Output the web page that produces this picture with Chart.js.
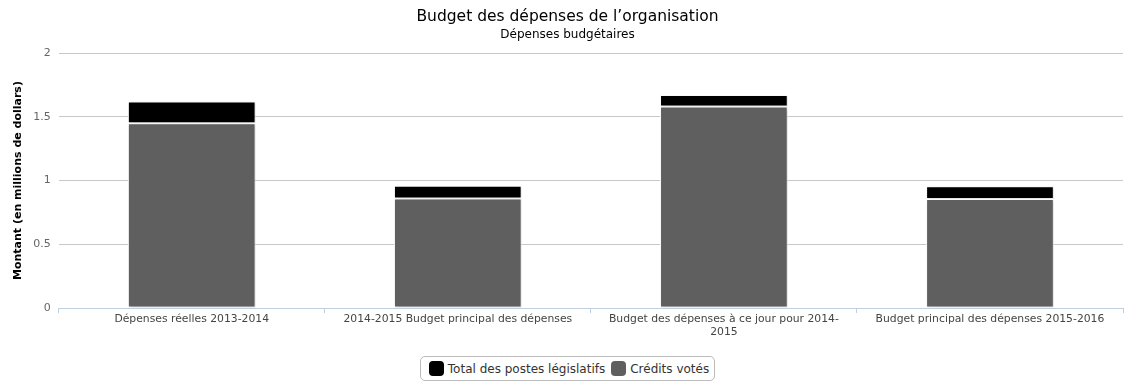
<!DOCTYPE html>
<html lang="fr">
<head>
<meta charset="utf-8">
<title>Budget des dépenses de l'organisation</title>
<script src="https://cdn.jsdelivr.net/npm/chart.js@4/dist/chart.umd.min.js"></script>
<style>
  html, body { margin: 0; padding: 0; background: #fff; }
  #wrap { position: relative; width: 1135px; height: 339px; }
  #legende {
    position: absolute; top: 356px; left: 0; width: 1135px;
    display: flex; justify-content: center;
  }
  #legende .cadre {
    display: flex; align-items: center; gap: 6px;
    border: 1px solid #bbb; border-radius: 5px;
    padding: 4px 5px 4px 8px;
    font: 12px 'DejaVu Sans', 'Lucida Grande', Verdana, sans-serif; color: #333;
  }
  #legende .item { display: flex; align-items: center; gap: 4px; }
  #legende .carre { width: 15px; height: 15px; border-radius: 4px; display: inline-block; }
</style>
</head>
<body>
<div id="wrap"><canvas id="budgetChart"></canvas></div>
<div id="legende"><div class="cadre"></div></div>
<script>
// --- Données ---
const categories = [
    'Dépenses réelles 2013-2014',
    '2014-2015 Budget principal des dépenses',
    ['Budget des dépenses à ce jour pour 2014-', '2015'],
    'Budget principal des dépenses 2015-2016'
];
const creditsVotes = [1.45, 0.86, 1.58, 0.856];
const postesLegislatifs = [0.17, 0.10, 0.09, 0.10];
const yTicks = [0, 0.5, 1, 1.5, 2];

const police = "'DejaVu Sans', 'Lucida Grande', Verdana, sans-serif";

// petite ombre sous les barres
const ombreBarres = {
    id: 'ombreBarres',
    beforeDatasetsDraw(chart) {
        const ctx = chart.ctx;
        ctx.save();
        ctx.shadowColor = 'rgba(0,0,0,0.18)';
        ctx.shadowBlur = 3;
        ctx.shadowOffsetX = 1;
        ctx.shadowOffsetY = 1;
    },
    afterDatasetsDraw(chart) {
        chart.ctx.restore();
    }
};

const ctx = document.getElementById('budgetChart').getContext('2d');

const chart = new Chart(ctx, {
    type: 'bar',
    data: {
        labels: categories,
        datasets: [
            {
                label: 'Crédits votés',
                data: creditsVotes,
                backgroundColor: '#5f5f5f',
                borderColor: '#ffffff',
                borderWidth: 1,
                borderSkipped: false
            },
            {
                label: 'Total des postes législatifs',
                data: postesLegislatifs,
                backgroundColor: '#000000',
                borderColor: '#ffffff',
                borderWidth: 1,
                borderSkipped: false
            }
        ]
    },
    options: {
        responsive: true,
        maintainAspectRatio: false,
        animation: false,
        layout: { padding: { left: 12, right: 12, top: 0, bottom: 0 } },
        datasets: {
            bar: { categoryPercentage: 1, barPercentage: 0.48 }
        },
        scales: {
            x: {
                stacked: true,
                border: { color: '#c0d0e0' },
                grid: {
                    offset: true,
                    drawOnChartArea: false,
                    drawTicks: true,
                    tickLength: 5,
                    color: '#c0d0e0'
                },
                ticks: {
                    color: '#444',
                    font: { family: police, size: 10.8 },
                    maxRotation: 0,
                    padding: 0
                }
            },
            y: {
                stacked: true,
                min: 0,
                max: 2,
                afterBuildTicks(axis) {
                    axis.ticks = yTicks.map(v => ({ value: v }));
                },
                border: { display: false },
                grid: { color: '#c8c8c8', drawTicks: false },
                ticks: {
                    color: '#666',
                    font: { family: police, size: 11 },
                    padding: 8,
                    callback: v => String(v)
                },
                title: {
                    display: true,
                    text: 'Montant (en millions de dollars)',
                    color: '#000',
                    font: { family: police, size: 11, weight: 'bold' },
                    padding: { top: 0, bottom: 0 }
                }
            }
        },
        plugins: {
            title: {
                display: true,
                text: 'Budget des dépenses de l\u2019organisation',
                color: '#000',
                font: { family: police, size: 15.5, weight: 'normal' },
                padding: { top: 8, bottom: 1 }
            },
            subtitle: {
                display: true,
                text: 'Dépenses budgétaires',
                color: '#000',
                font: { family: police, size: 12 },
                padding: { bottom: 11 }
            },
            legend: { display: false },
            tooltip: { enabled: false }
        }
    },
    plugins: [ombreBarres]
});

// légende HTML, dans l'ordre inverse des séries (comme l'original)
const cadre = document.querySelector('#legende .cadre');
chart.data.datasets.slice().reverse().forEach(ds => {
    const item = document.createElement('span');
    item.className = 'item';
    const carre = document.createElement('span');
    carre.className = 'carre';
    carre.style.background = ds.backgroundColor;
    item.appendChild(carre);
    item.appendChild(document.createTextNode(ds.label));
    cadre.appendChild(item);
});
</script>
</body>
</html>
